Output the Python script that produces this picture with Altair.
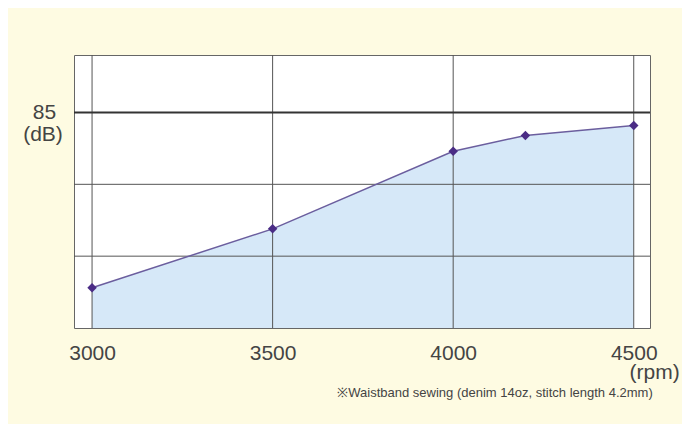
import altair as alt
import pandas as pd

rpm = [3000, 3500, 4000, 4200, 4500]
noise_db = [72.8, 76.9, 82.3, 83.4, 84.1]
x_ticks = [3000, 3500, 4000, 4500]
y_grid = [75, 80]
y_main = [85]

FONT = "Liberation Sans"
df = pd.DataFrame({"rpm": rpm, "db": noise_db})
vgrid = pd.DataFrame({"rpm": x_ticks})
hgrid = pd.DataFrame({"db": y_grid})
hmain = pd.DataFrame({"db": y_main})

xs = alt.Scale(domain=[2950, 4545], nice=False, zero=False)
ys = alt.Scale(domain=[70, 89], nice=False, zero=False)

xaxis = alt.Axis(values=x_ticks, title=None, grid=False, ticks=False, tickSize=0, domain=False,
                 format="d", labelFontSize=21, labelColor="#444", labelFont=FONT,
                 labelBaseline="middle", labelPadding=25, labelFlush=False)
yaxis = alt.Axis(values=y_main, title=None, grid=False, ticks=False, tickSize=0, domain=False,
                 format="d", labelFontSize=21, labelColor="#444", labelFont=FONT,
                 labelAlign="center", labelBaseline="middle", labelPadding=30)

area = alt.Chart(df).mark_area(color="#D6E8F8", opacity=1).encode(
    x=alt.X("rpm:Q", scale=xs, axis=xaxis),
    y=alt.Y("db:Q", scale=ys, axis=yaxis),
    y2=alt.datum(70),
)

vrules = alt.Chart(vgrid).mark_rule(color="#555", strokeWidth=1).encode(
    x=alt.X("rpm:Q", scale=xs)
)
hrules = alt.Chart(hgrid).mark_rule(color="#555", strokeWidth=1).encode(
    y=alt.Y("db:Q", scale=ys)
)
hmainrule = alt.Chart(hmain).mark_rule(color="#333", strokeWidth=2).encode(
    y=alt.Y("db:Q", scale=ys)
)

line = alt.Chart(df).mark_line(color="#6B5E9E", strokeWidth=1.5).encode(
    x=alt.X("rpm:Q", scale=xs), y=alt.Y("db:Q", scale=ys)
)
points = alt.Chart(df).mark_point(shape="diamond", filled=True, color="#4A2C85", size=90, opacity=1).encode(
    x=alt.X("rpm:Q", scale=xs), y=alt.Y("db:Q", scale=ys)
)

db_label = alt.Chart(hmain).mark_text(font=FONT, fontSize=21, color="#444", align="center",
                                      baseline="middle", dy=23).encode(
    x=alt.value(-31), y=alt.Y("db:Q", scale=ys), text=alt.value("(dB)")
)
rpm_label = alt.Chart(pd.DataFrame({"rpm": [4500]})).mark_text(
    font=FONT, fontSize=21, color="#444", align="right", baseline="middle", dx=46).encode(
    x=alt.X("rpm:Q", scale=xs), y=alt.value(318), text=alt.value("(rpm)")
)
note = alt.Chart(pd.DataFrame({"rpm": [4500]})).mark_text(
    font=FONT, fontSize=13, color="#444", align="right", baseline="middle", dx=19).encode(
    x=alt.X("rpm:Q", scale=xs), y=alt.value(338),
    text=alt.value("※Waistband sewing (denim 14oz, stitch length 4.2mm)")
)

chart = alt.layer(area, vrules, hrules, hmainrule, line, points, db_label, rpm_label, note).properties(
    width=576, height=273,
    autosize=alt.AutoSizeParams(type="none"),
    padding={"left": 66, "top": 47, "right": 32, "bottom": 96},
    background="#FEFBE2",
).configure_view(fill="white", stroke="#666", strokeWidth=1)

chart.save("out.html", embed_options={"renderer": "svg", "actions": False})
